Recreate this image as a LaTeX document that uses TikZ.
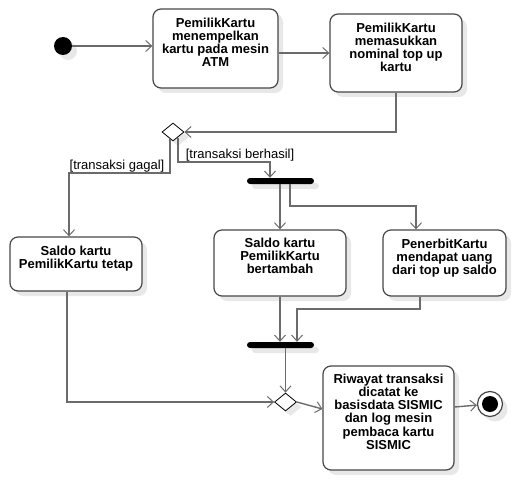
\documentclass[tikz,border=0pt]{standalone}
\usepackage{fontspec}
\setmainfont{Liberation Sans}
\usetikzlibrary{arrows.meta,shapes.geometric,shadows,calc}
\begin{document}
\begin{tikzpicture}[x=1pt,y=-1pt,
  shad/.style={drop shadow={shadow xshift=5pt,shadow yshift=-5pt,fill=black!9,opacity=1}},
  act/.style={draw=black!72,line width=1.2pt,rounded corners=8pt,fill=white,shad,inner sep=0pt},
  acttext/.style={anchor=north,align=center,font=\fontsize{13}{13.3}\selectfont\bfseries,inner sep=0pt},
  flow/.style={draw=black!58,line width=1.4pt,-{Straight Barb[length=6pt,width=11pt,line width=1pt]}},
  syncbar/.style={fill=black,rounded corners=3pt,minimum width=67pt,minimum height=6pt,inner sep=0pt,shad},
  dec/.style={diamond,draw=black,fill=white,line width=0.8pt,minimum width=22pt,minimum height=18pt,inner sep=0pt,shad},
  guard/.style={font=\fontsize{13}{14}\selectfont,inner sep=0pt}
]
\useasboundingbox (0,0) rectangle (516,481);

% nodes
\node[circle,fill=black,minimum size=18pt,inner sep=0pt,shad] (init) at (63,46) {};
\node[act,minimum width=125pt,minimum height=79pt] (b1) at (215.5,48.5) {};
\node[acttext] (t1) at ([yshift=-9pt]b1.north) {PemilikKartu\\menempelkan\\kartu pada mesin\\ATM};
\node[act,minimum width=132pt,minimum height=78pt] (b2) at (396,53) {};
\node[acttext] (t2) at ([yshift=-9pt]b2.north) {PemilikKartu\\memasukkan\\nominal top up\\kartu};
\node[dec] (d1) at (173,132) {};
\node[syncbar] (bar1) at (280.5,181) {};
\node[act,minimum width=132pt,minimum height=54pt] (b3) at (76,264) {};
\node[acttext] (t3) at ([yshift=-9pt]b3.north) {Saldo kartu\\PemilikKartu tetap};
\node[act,minimum width=132pt,minimum height=66pt] (b4) at (280,263) {};
\node[acttext] (t4) at ([yshift=-8pt]b4.north) {Saldo kartu\\PemilikKartu\\bertambah};
\node[act,minimum width=123pt,minimum height=66pt] (b5) at (444.5,263) {};
\node[acttext] (t5) at ([yshift=-9pt]b5.north) {PenerbitKartu\\mendapat uang\\dari top up saldo};
\node[syncbar] (bar2) at (280.5,345) {};
\node[dec] (d2) at (285.5,402) {};
\node[act,minimum width=131pt,minimum height=104pt] (b6) at (388.5,418) {};
\node[acttext] (t6) at ([yshift=-8pt]b6.north) {Riwayat transaksi\\dicatat ke\\basisdata SISMIC\\dan log mesin\\pembaca kartu\\SISMIC};
\node[circle,draw=black!72,line width=1.2pt,fill=white,minimum size=25pt,inner sep=0pt,shad] (fin) at (490,404) {};
\node[circle,fill=black,minimum size=16pt,inner sep=0pt] (fincore) at (fin) {};

% guards
\node[guard] (g1) at (117,166) {[transaksi gagal]};
\node[guard] (g2) at (240,155) {[transaksi berhasil]};

% connectors
\draw[flow] (init) -- (b1.west |- init);
\draw[flow] (b1.east |- b2.west) -- (b2.west);
\draw[flow] (b2.south) |- (d1.east);
\draw[flow] ([xshift=-3pt,yshift=2pt]d1.south) |- (69,173) -- (b3.north -| 69,0);
\draw[flow] ([xshift=5pt,yshift=3pt]d1.south) |- (270,162) -- (bar1.north -| 270,0);
\draw[flow] (bar1.south -| b4.north) -- (b4.north);
\draw[flow] (bar1.south -| 290,0) |- (416,206) -- (b5.north -| 416,0);
\draw[flow] (b3.south -| 67,0) |- (d2.west);
\draw[flow] (b4.south) -- (bar2.north -| b4.south);
\draw[flow] (b5.south -| 420,0) |- (297,309) -- (bar2.north -| 297,0);
\draw[flow] (bar2.south -| d2.north) -- (d2.north);
\draw[flow] (d2.east) -- ([yshift=9pt]b6.west);
\draw[flow] ([yshift=11pt]b6.east) -- (fin);
\end{tikzpicture}
\end{document}
